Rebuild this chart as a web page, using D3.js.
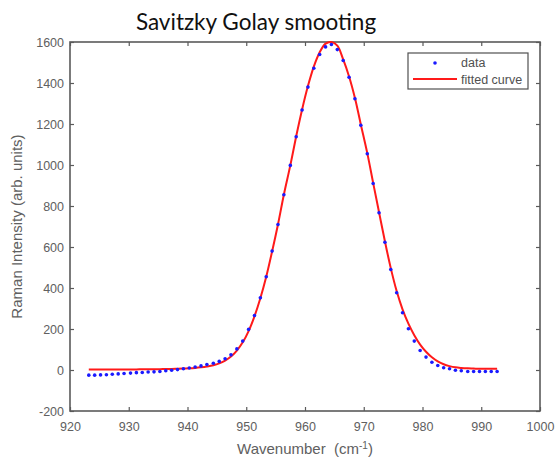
<!DOCTYPE html>
<html>
<head>
<meta charset="utf-8">
<script src="https://cdn.jsdelivr.net/npm/d3@7"></script>
<style>
  body { margin: 0; background: #fff; }
  svg { display: block; }
</style>
</head>
<body>
<div id="chart"></div>
<script>
// wavenumber grid of the measured spectrum (cm-1)
const wavenumber = [923.2, 924.2, 925.2, 926.2, 927.2, 928.2, 929.2, 930.3, 931.3, 932.3,
  933.3, 934.3, 935.3, 936.3, 937.3, 938.3, 939.3, 940.3, 941.3, 942.3,
  943.3, 944.4, 945.4, 946.4, 947.4, 948.4, 949.4, 950.4, 951.4, 952.4,
  953.4, 954.4, 955.4, 956.4, 957.5, 958.5, 959.5, 960.5, 961.5, 962.5,
  963.5, 964.5, 965.5, 966.5, 967.5, 968.5, 969.5, 970.6, 971.6, 972.6,
  973.6, 974.6, 975.6, 976.6, 977.6, 978.6, 979.6, 980.6, 981.6, 982.6,
  983.6, 984.6, 985.6, 986.6, 987.7, 988.7, 989.7, 990.7, 991.7, 992.7];

// measured intensity (blue dots)
const intensity = [-25, -25, -24, -23, -21, -19, -17, -15, -13, -12,
  -10, -9, -7, -4, -1, 2, 6, 10, 15, 20,
  27, 33, 42, 55, 74, 103, 141, 198, 266, 352,
  455, 580, 710, 855, 998, 1138, 1268, 1380, 1472, 1539,
  1576, 1588, 1563, 1510, 1428, 1323, 1194, 1055, 910, 767,
  623, 490, 377, 279, 201, 141, 95, 63, 38, 22,
  11, 6, -1, -4, -7, -7, -7, -7, -7, -7];

// smoothed / fitted curve (red line)
const fitted = [3, 3, 3, 3, 3, 3, 3, 3, 3, 4,
  4, 4, 4, 5, 5, 6, 7, 8, 10, 13,
  17, 23, 32, 46, 66, 95, 135, 190, 262, 350,
  455, 578, 710, 855, 998, 1140, 1270, 1385, 1480, 1550,
  1592, 1600, 1582, 1515, 1432, 1327, 1198, 1058, 913, 770,
  628, 497, 385, 296, 226, 170, 124, 89, 62, 42,
  28, 19, 13, 10, 8, 7, 6, 6, 6, 6];

const xTicks = [920, 930, 940, 950, 960, 970, 980, 990, 1000];
const yTicks = [-200, 0, 200, 400, 600, 800, 1000, 1200, 1400, 1600];
const legendLabels = ["data", "fitted curve"];

const width = 560, height = 458;
const margin = { top: 42, right: 20, bottom: 47, left: 70 };
const axisColor = "#5a5a5a", textColor = "#606060";
const plain = d => String(d);

const svg = d3.select("#chart")
  .append("svg")
  .attr("width", width)
  .attr("height", height);

const x = d3.scaleLinear().domain([920, 1000]).range([margin.left, width - margin.right]);
const y = d3.scaleLinear().domain([-200, 1600]).range([height - margin.bottom, margin.top]);

// title
svg.append("text")
  .attr("x", 256)
  .attr("y", 30)
  .attr("text-anchor", "middle")
  .style("font-family", "Lato, 'Open Sans', sans-serif")
  .style("font-size", "22.5px")
  .style("fill", "#111")
  .text("Savitzky Golay smooting");

// axes (ticks point inward, box drawn separately)
function styleAxis(g) {
  g.select(".domain").remove();
  g.selectAll(".tick line").attr("stroke", axisColor).attr("stroke-width", 1.2);
  g.selectAll(".tick text")
    .style("font-family", "Arial, 'Liberation Sans', sans-serif")
    .style("font-size", "12.5px")
    .style("fill", textColor);
}

svg.append("g")
  .attr("transform", `translate(0,${y(-200)})`)
  .call(d3.axisBottom(x).tickValues(xTicks).tickFormat(plain)
    .tickSizeInner(-4).tickSizeOuter(0).tickPadding(11))
  .call(styleAxis);

svg.append("g")
  .attr("transform", `translate(0,${y(1600)})`)
  .call(d3.axisTop(x).tickValues(xTicks).tickSizeInner(-4).tickSizeOuter(0).tickFormat(""))
  .call(styleAxis);

svg.append("g")
  .attr("transform", `translate(${x(920)},0)`)
  .call(d3.axisLeft(y).tickValues(yTicks).tickFormat(plain)
    .tickSizeInner(-4).tickSizeOuter(0).tickPadding(6))
  .call(styleAxis);

svg.append("g")
  .attr("transform", `translate(${x(1000)},0)`)
  .call(d3.axisRight(y).tickValues(yTicks).tickSizeInner(-4).tickSizeOuter(0).tickFormat(""))
  .call(styleAxis);

svg.append("rect")
  .attr("x", x(920))
  .attr("y", y(1600))
  .attr("width", x(1000) - x(920))
  .attr("height", y(-200) - y(1600))
  .attr("fill", "none")
  .attr("stroke", axisColor)
  .attr("stroke-width", 1.6);

// axis labels
svg.append("text")
  .attr("x", (x(920) + x(1000)) / 2)
  .attr("y", 454)
  .attr("text-anchor", "middle")
  .style("white-space", "pre")
  .style("font-family", "Arial, 'Liberation Sans', sans-serif")
  .style("font-size", "15px")
  .style("fill", textColor)
  .text("Wavenumber  (cm")
  .append("tspan")
  .attr("dy", -5)
  .style("font-size", "10px")
  .text("-1")
  .append("tspan")
  .attr("dy", 5)
  .style("font-size", "15px")
  .text(")");

svg.append("text")
  .attr("transform", `translate(22,${(y(-200) + y(1600)) / 2}) rotate(-90)`)
  .attr("text-anchor", "middle")
  .style("font-family", "Arial, 'Liberation Sans', sans-serif")
  .style("font-size", "15px")
  .style("fill", textColor)
  .text("Raman Intensity (arb. units)");

// fitted curve
const line = d3.line()
  .x((d, i) => x(wavenumber[i]))
  .y(d => y(d))
  .curve(d3.curveCatmullRom);

svg.append("path")
  .datum(fitted)
  .attr("d", line)
  .attr("fill", "none")
  .attr("stroke", "#ff1a1a")
  .attr("stroke-width", 2);

// data points
svg.append("g")
  .selectAll("circle")
  .data(intensity)
  .join("circle")
  .attr("cx", (d, i) => x(wavenumber[i]))
  .attr("cy", d => y(d))
  .attr("r", 1.8)
  .attr("fill", "#1a1aff");

// legend
const legend = svg.append("g");
legend.append("rect")
  .attr("x", 408).attr("y", 53)
  .attr("width", 120).attr("height", 36)
  .attr("fill", "#fff")
  .attr("stroke", "#505050")
  .attr("stroke-width", 1.2);
legend.append("circle")
  .attr("cx", 435).attr("cy", 63).attr("r", 1.8)
  .attr("fill", "#1a1aff");
legend.append("line")
  .attr("x1", 413).attr("x2", 457)
  .attr("y1", 79).attr("y2", 79)
  .attr("stroke", "#ff1a1a").attr("stroke-width", 2);
legend.selectAll("text.lbl")
  .data(legendLabels)
  .join("text")
  .attr("class", "lbl")
  .attr("x", 461)
  .attr("y", (d, i) => 67 + i * 17)
  .style("font-family", "Arial, 'Liberation Sans', sans-serif")
  .style("font-size", "12.5px")
  .style("fill", "#505050")
  .text(d => d);
</script>
</body>
</html>
